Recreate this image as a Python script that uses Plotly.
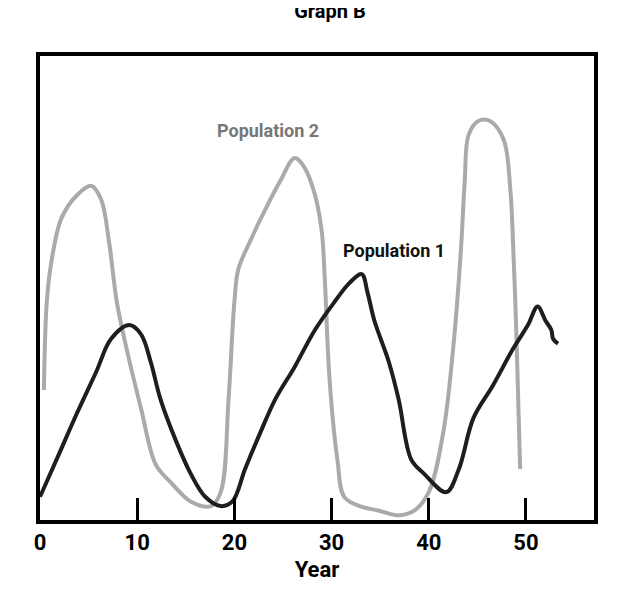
import plotly.graph_objects as go

# Population 2 (gray)
pop2_year = [0.4, 0.7, 1.2, 2.2, 3.8, 5.3, 6.3, 7.1, 7.9, 8.9, 10.4, 11.9, 13.5, 15.5, 17.6, 18.6,
             19.4, 20.0, 20.4, 21.6, 23.2, 24.7, 26.2, 27.2, 28.3, 29.0, 29.3, 29.8, 30.6, 31.3,
             32.9, 34.9, 36.9, 38.5, 40.0, 41.5, 42.6, 43.3, 43.7, 44.1, 45.1, 46.3, 47.7, 48.4,
             48.7, 49.0, 49.2, 49.4]
pop2_val = [28, 47, 56, 65, 70, 72, 69, 60, 47, 37, 24, 12, 8, 4, 3, 6,
            26, 47, 54, 60, 67, 73, 78, 76, 70, 62, 52, 30, 13, 5,
            3, 2, 1, 2, 6, 19, 39, 58, 73, 83, 86, 86, 82, 71,
            58, 41, 26, 11]

# Population 1 (black)
pop1_year = [0, 1.7, 3.8, 5.8, 7.3, 9.2, 10.4, 11.4, 12.4, 14.0, 15.5, 17.0, 18.6, 19.8, 21.1,
             22.7, 24.2, 26.2, 28.3, 30.3, 31.8, 33.1, 33.7, 34.4, 35.9, 36.9, 38.2, 39.5, 41.8,
             43.1, 44.6, 46.6, 48.7, 50.2, 51.2, 52.0, 52.6, 52.8, 53.3]
pop1_val = [5, 13, 23, 32, 39, 42, 40, 34, 26, 17, 10, 5, 3, 4, 11,
            19, 26, 33, 41, 47, 51, 53, 49, 43, 34, 26, 13, 10, 6,
            11, 22, 29, 37, 42, 46, 43, 41, 39, 38]

tick_years = [0, 10, 20, 30, 40, 50]

FONT = "Liberation Sans Narrow, Roboto, sans-serif"

fig = go.Figure()
fig.add_trace(go.Scatter(x=pop2_year, y=pop2_val, mode="lines",
                         line=dict(color="#aaaaaa", width=4, shape="spline")))
fig.add_trace(go.Scatter(x=pop1_year, y=pop1_val, mode="lines",
                         line=dict(color="#1e1e1e", width=4, shape="spline")))

fig.add_annotation(x=23.5, y=84, text="<b>Population 2</b>", showarrow=False,
                   font=dict(family=FONT, size=18, color="#777777"))
fig.add_annotation(x=36.4, y=58, text="<b>Population 1</b>", showarrow=False,
                   font=dict(family=FONT, size=18, color="#111111"))

fig.update_layout(
    width=644, height=601, showlegend=False,
    paper_bgcolor="white", plot_bgcolor="white",
    margin=dict(l=32, r=58, t=48, b=89),
    title=dict(text="<b>Graph B</b>", x=0.5, y=0.995, yanchor="middle",
               font=dict(family=FONT, size=20, color="black")),
    font=dict(family=FONT),
)
fig.update_xaxes(range=[0, 57], tickvals=tick_years, ticktext=[f"<b>{t}</b>" for t in tick_years],
                 ticks="inside", ticklen=22, tickwidth=3, tickcolor="black",
                 showgrid=False, zeroline=False,
                 showline=True, linewidth=4, linecolor="black", mirror=True,
                 tickfont=dict(family=FONT, size=22, color="black"),
                 title=dict(text="<b>Year</b>", font=dict(family=FONT, size=22, color="black"), standoff=8))
fig.update_yaxes(range=[0, 100], showticklabels=False, ticks="", showgrid=False, zeroline=False,
                 showline=True, linewidth=4, linecolor="black", mirror=True)

fig.write_html("out.html")
